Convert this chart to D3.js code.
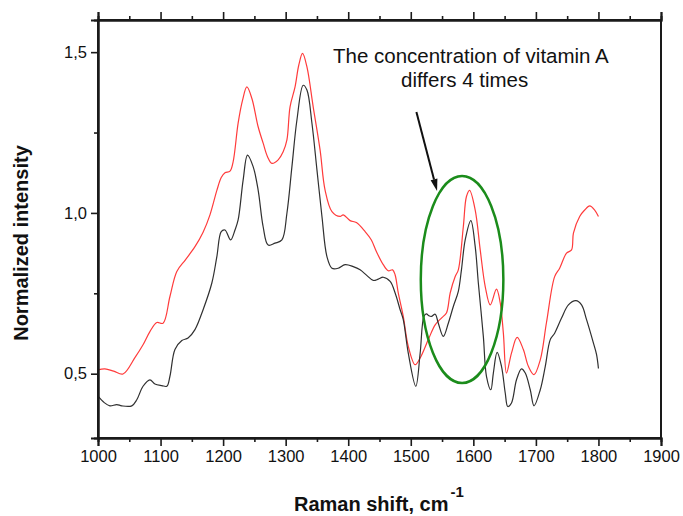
<!DOCTYPE html>
<html>
<head>
<meta charset="utf-8">
<script src="https://cdn.jsdelivr.net/npm/d3@7"></script>
<style>
  html, body { margin: 0; padding: 0; background: #fff; }
  svg { display: block; }
  .tick text { font-family: "Liberation Sans", Arial, sans-serif; font-size: 16.5px; fill: #111; }
</style>
</head>
<body>
<svg id="chart" width="683" height="516"></svg>
<script>
// Raman spectra: two samples, normalized intensity vs Raman shift
const redShift = [1000,1011,1025,1040,1059,1072,1083,1094,1104,1115,1126,1140,1155,1168,1179,1190,1197,1203,1211,1216,1224,1231,1238,1246,1256,1264,1271,1278,1288,1296,1302,1307,1315,1321,1327,1334,1344,1355,1363,1374,1387,1392,1403,1413,1427,1437,1445,1456,1464,1471,1475,1480,1488,1496,1507,1515,1528,1539,1549,1557,1563,1571,1576,1584,1589,1594,1603,1611,1619,1627,1637,1643,1648,1653,1661,1670,1680,1688,1697,1707,1717,1730,1738,1749,1757,1760,1770,1778,1786,1794,1800];
const redIntensity = [0.512,0.515,0.508,0.499,0.55,0.59,0.631,0.659,0.657,0.74,0.818,0.855,0.895,0.94,0.994,1.07,1.11,1.125,1.13,1.159,1.279,1.35,1.392,1.356,1.268,1.217,1.175,1.154,1.165,1.19,1.227,1.33,1.392,1.46,1.496,1.454,1.33,1.196,1.071,1.004,0.989,0.994,0.976,0.97,0.942,0.916,0.88,0.839,0.82,0.823,0.807,0.751,0.678,0.585,0.528,0.549,0.606,0.652,0.673,0.689,0.751,0.802,0.823,0.957,1.051,1.07,1.009,0.885,0.771,0.714,0.763,0.72,0.626,0.502,0.564,0.613,0.575,0.523,0.497,0.543,0.66,0.802,0.828,0.875,0.885,0.937,0.989,1.009,1.022,1.009,0.989];

const blackShift = [1000,1010,1019,1030,1038,1054,1062,1072,1083,1091,1102,1110,1115,1123,1134,1144,1155,1168,1182,1190,1197,1203,1212,1219,1224,1232,1239,1248,1256,1264,1272,1283,1294,1302,1310,1318,1328,1334,1342,1350,1358,1366,1374,1384,1395,1408,1419,1430,1440,1448,1456,1467,1475,1483,1488,1496,1508,1515,1521,1525,1529,1533,1539,1544,1552,1560,1568,1576,1581,1587,1596,1603,1608,1616,1621,1628,1632,1638,1645,1651,1655,1661,1669,1677,1683,1691,1697,1707,1715,1723,1730,1741,1752,1764,1773,1781,1792,1797,1800];
const blackIntensity = [0.43,0.41,0.40,0.404,0.40,0.40,0.419,0.461,0.481,0.468,0.463,0.461,0.492,0.575,0.603,0.611,0.637,0.699,0.782,0.864,0.942,0.947,0.916,0.947,0.978,1.102,1.18,1.144,1.071,0.957,0.90,0.906,0.916,0.999,1.144,1.289,1.397,1.382,1.279,1.134,0.989,0.864,0.828,0.828,0.839,0.833,0.823,0.805,0.79,0.794,0.80,0.787,0.751,0.699,0.668,0.564,0.461,0.564,0.678,0.686,0.68,0.678,0.685,0.657,0.616,0.657,0.709,0.756,0.823,0.916,0.976,0.895,0.782,0.616,0.492,0.45,0.502,0.566,0.523,0.44,0.398,0.409,0.481,0.515,0.502,0.45,0.40,0.45,0.523,0.606,0.626,0.673,0.714,0.727,0.714,0.668,0.595,0.559,0.516];

const xTicks = [1000,1100,1200,1300,1400,1500,1600,1700,1800,1900];
const xMinorTicks = [1050,1150,1250,1350,1450,1550,1650,1750,1850];
const yTicks = [0.5,1.0,1.5];
const yTickLabels = ["0,5","1,0","1,5"];
const yMinorTicks = [0.75,1.25];

const noteLines = ["The concentration of vitamin A", "differs 4 times"];
// highlighted region around the ~1590 cm-1 band: centre and half-widths in data units
const highlight = { cx: 1582, cy: 0.793, rx: 66, ry: 0.322 };
// arrow from the note down to the highlighted band
const arrowFrom = [1509, 1.314], arrowTo = [1542, 1.068];

const W = 683, H = 516;
const margin = { top: 20, right: 22, bottom: 78, left: 98 };
const svg = d3.select("#chart");

const x = d3.scaleLinear().domain([1000, 1900]).range([margin.left, W - margin.right]);
const y = d3.scaleLinear().domain([0.3, 1.6]).range([H - margin.bottom, margin.top]);

const fontMain = '"Liberation Sans", Arial, sans-serif';

// spectra
const line = d3.line().curve(d3.curveCatmullRom.alpha(0.5)).x(d => x(d[0])).y(d => y(d[1]));
svg.append("path")
  .datum(redShift.map((s, i) => [s, redIntensity[i]]))
  .attr("d", line).attr("fill", "none").attr("stroke", "#ff3b3b").attr("stroke-width", 1.2);
svg.append("path")
  .datum(blackShift.map((s, i) => [s, blackIntensity[i]]))
  .attr("d", line).attr("fill", "none").attr("stroke", "#303030").attr("stroke-width", 1.2);

// frame
const frame = svg.append("g").attr("stroke", "#1a1a1a").attr("stroke-width", 2).attr("fill", "none");
frame.append("rect")
  .attr("x", x(1000)).attr("y", y(1.6))
  .attr("width", x(1900) - x(1000)).attr("height", y(0.3) - y(1.6));

// bottom axis
svg.append("g").attr("transform", `translate(0,${y(0.3)})`)
  .call(d3.axisBottom(x).tickValues(xTicks).tickFormat(d3.format("d")).tickSize(8).tickPadding(4));
svg.append("g").attr("transform", `translate(0,${y(0.3)})`)
  .call(d3.axisBottom(x).tickValues(xMinorTicks).tickFormat("").tickSize(4));

// top axis (ticks only)
svg.append("g").attr("transform", `translate(0,${y(1.6)})`)
  .call(d3.axisTop(x).tickValues(xTicks).tickFormat("").tickSize(8));
svg.append("g").attr("transform", `translate(0,${y(1.6)})`)
  .call(d3.axisTop(x).tickValues(xMinorTicks).tickFormat("").tickSize(4));

// left axis
svg.append("g").attr("transform", `translate(${x(1000)},0)`)
  .call(d3.axisLeft(y).tickValues(yTicks).tickFormat((d, i) => yTickLabels[i]).tickSize(7).tickPadding(4));
svg.append("g").attr("transform", `translate(${x(1000)},0)`)
  .call(d3.axisLeft(y).tickValues(yMinorTicks).tickFormat("").tickSize(4));

svg.selectAll(".domain").attr("stroke", "#1a1a1a").attr("stroke-width", 2);
svg.selectAll(".tick line").attr("stroke", "#1a1a1a").attr("stroke-width", 1.6);

// axis titles
svg.append("text")
  .attr("transform", `translate(28,${(y(0.3) + y(1.6)) / 2 + 14}) rotate(-90)`)
  .attr("text-anchor", "middle")
  .attr("font-family", fontMain).attr("font-weight", "bold").attr("font-size", 20)
  .attr("fill", "#111")
  .text("Normalized intensity");

const xTitle = svg.append("text")
  .attr("x", 294).attr("y", 511)
  .attr("font-family", fontMain).attr("font-weight", "bold").attr("font-size", 20)
  .attr("fill", "#111");
xTitle.append("tspan").text("Raman shift, cm");
xTitle.append("tspan").attr("dx", 2).attr("dy", -14).attr("font-size", 15).text("-1");

// note
svg.append("g").selectAll("text").data(noteLines).join("text")
  .attr("x", (d, i) => i === 0 ? 333 : 401)
  .attr("y", (d, i) => 63 + i * 24)
  .attr("font-family", fontMain).attr("font-size", 20.5).attr("fill", "#111")
  .text(d => d);

// arrow
const ax0 = x(arrowFrom[0]), ay0 = y(arrowFrom[1]);
const ax1 = x(arrowTo[0]), ay1 = y(arrowTo[1]);
const ang = Math.atan2(ay1 - ay0, ax1 - ax0);
const headLen = 12, headHalf = 3.5;
const bx = ax1 - headLen * Math.cos(ang), by = ay1 - headLen * Math.sin(ang);
svg.append("line")
  .attr("x1", ax0).attr("y1", ay0).attr("x2", bx).attr("y2", by)
  .attr("stroke", "#111").attr("stroke-width", 2);
svg.append("path")
  .attr("d", `M${ax1},${ay1}L${bx - headHalf * Math.sin(ang)},${by + headHalf * Math.cos(ang)}L${bx + headHalf * Math.sin(ang)},${by - headHalf * Math.cos(ang)}Z`)
  .attr("fill", "#111");

// highlight ellipse
svg.append("ellipse")
  .attr("cx", x(highlight.cx)).attr("cy", y(highlight.cy))
  .attr("rx", x(highlight.cx + highlight.rx) - x(highlight.cx))
  .attr("ry", y(highlight.cy - highlight.ry) - y(highlight.cy))
  .attr("fill", "none").attr("stroke", "#1b8c1b").attr("stroke-width", 2.5);
</script>
</body>
</html>
